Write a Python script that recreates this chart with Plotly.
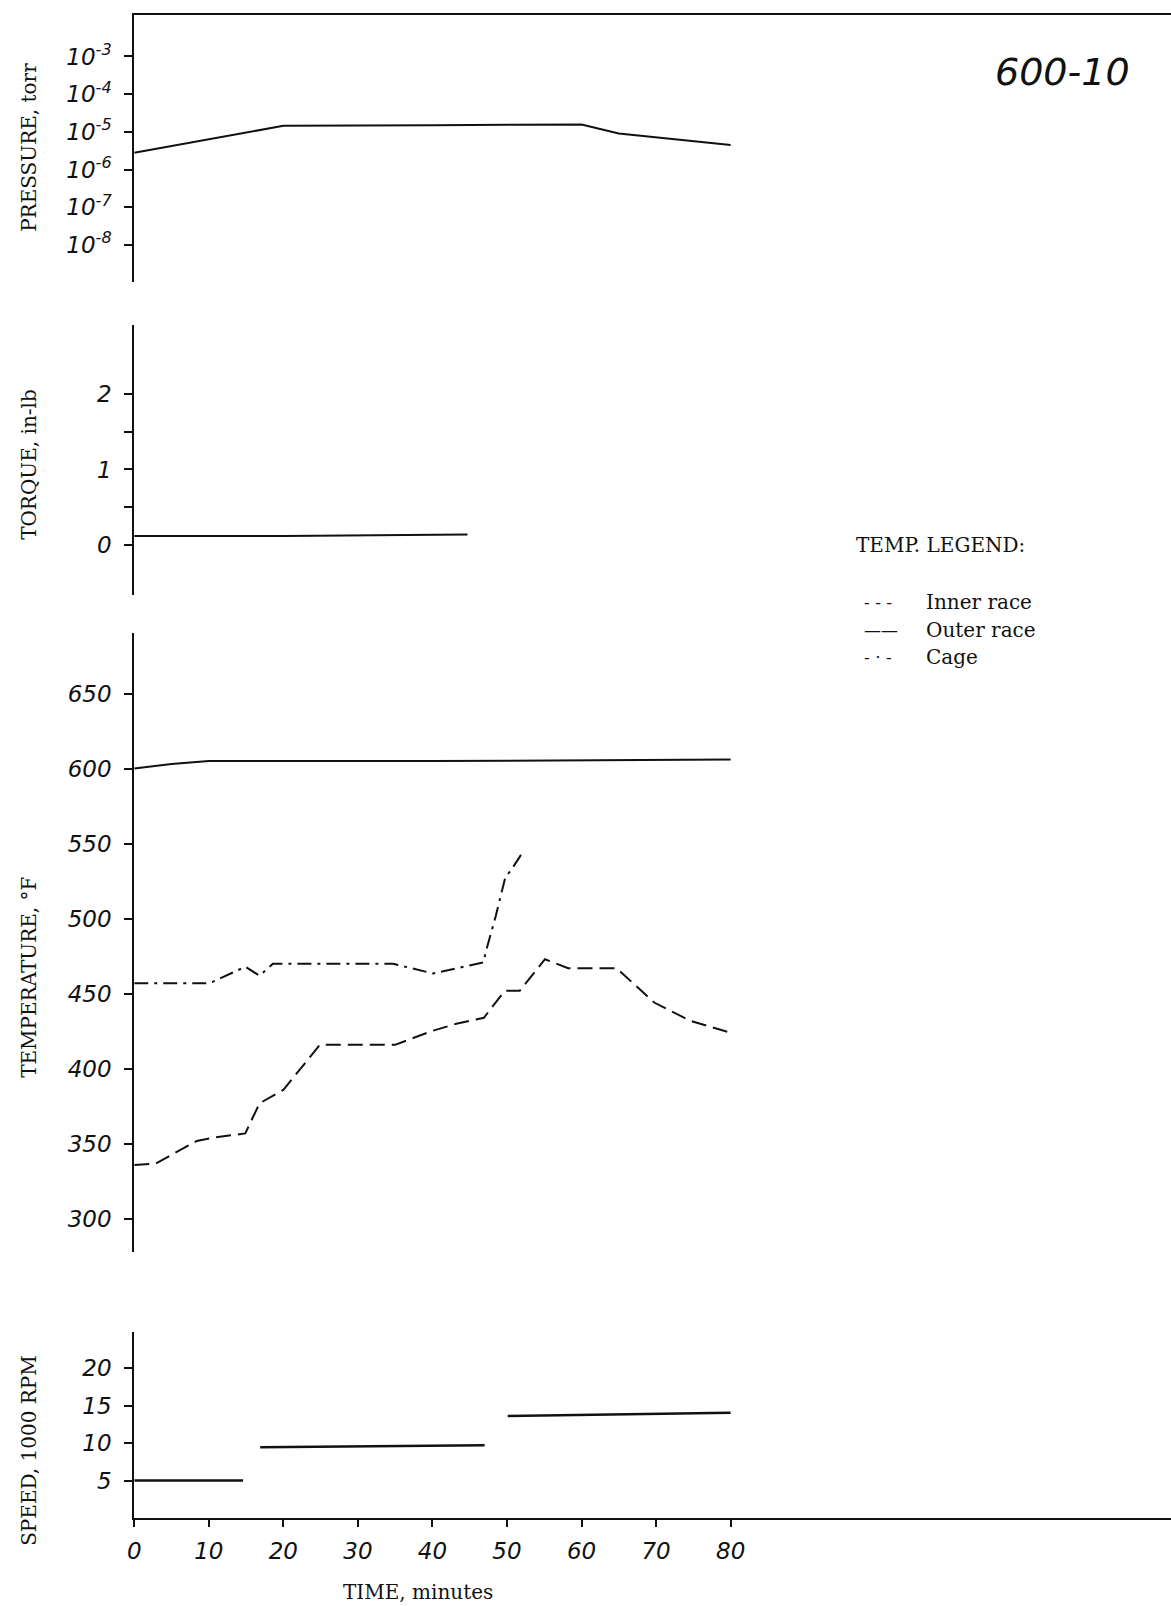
import plotly.graph_objects as go

# ---------------- data ----------------
time_pressure = [0, 10, 20, 40, 60, 65, 80]
pressure_torr = [2.8e-6, 6.4e-6, 1.45e-5, 1.5e-5, 1.58e-5, 9.1e-6, 4.5e-6]

time_torque = [0, 20, 44.7]
torque_inlb = [0.12, 0.12, 0.14]

time_outer = [0, 5, 10, 40, 80]
temp_outer = [600, 603, 605, 605, 606]

time_inner = [0, 2.9, 8.4, 10.4, 14.9, 16.8, 20, 24.9, 35, 39.8, 43.2, 46.9,
              49.7, 51.7, 55.1, 58.2, 64.7, 69.8, 74.6, 80]
temp_inner = [336, 337, 352, 354, 357, 377, 386, 416, 416, 425, 430, 434,
              452, 452, 473, 467, 467, 444, 432, 424]

time_cage = [0, 10.1, 14.9, 16.8, 18.6, 34.7, 40.1, 46.9, 47.1, 48.5, 49.8, 50.5, 52.0]
temp_cage = [457, 457, 468, 462, 470, 470, 463.5, 471, 477, 502, 528, 532, 543.5]

time_speed = [0, 14.6, None, 16.9, 47, None, 50.1, 80]
speed_krpm = [5, 5, None, 9.45, 9.7, None, 13.6, 14.05]

time_ticks = [0, 10, 20, 30, 40, 50, 60, 70, 80]
pressure_ticks = [1e-3, 1e-4, 1e-5, 1e-6, 1e-7, 1e-8]
pressure_ticktext = ["10<sup>-3</sup>", "10<sup>-4</sup>", "10<sup>-5</sup>",
                     "10<sup>-6</sup>", "10<sup>-7</sup>", "10<sup>-8</sup>"]
torque_ticks = [0, 0.5, 1, 1.5, 2]
torque_ticktext = ["0", "", "1", "", "2"]
temp_ticks = [300, 350, 400, 450, 500, 550, 600, 650]
speed_ticks = [5, 10, 15, 20]

legend_title = "TEMP. LEGEND:"
legend_marks = ["- - -", "——", "- · -"]
legend_labels = ["Inner race", "Outer race", "Cage"]

# ---------------- figure ----------------
W, H = 1171, 1606
INK = "#111111"

def py(px):
    return 1 - px / H

def pxx(px):
    return px / W

tickfont = dict(family="DejaVu Sans", size=23, color=INK, style="italic")
titlefont = dict(family="DejaVu Serif", size=20, color=INK)
legendfont = dict(family="DejaVu Serif", size=20, color=INK)

fig = go.Figure()

line = dict(color=INK, width=2)
fig.add_trace(go.Scatter(x=time_pressure, y=pressure_torr, mode="lines",
                         line=line, xaxis="x2", yaxis="y", showlegend=False))
fig.add_trace(go.Scatter(x=time_torque, y=torque_inlb, mode="lines",
                         line=line, xaxis="x", yaxis="y2", showlegend=False))
fig.add_trace(go.Scatter(x=time_outer, y=temp_outer, mode="lines",
                         line=line, xaxis="x", yaxis="y3", showlegend=False))
fig.add_trace(go.Scatter(x=time_inner, y=temp_inner, mode="lines",
                         line=dict(color=INK, width=2, dash="15px,7px"),
                         xaxis="x", yaxis="y3", showlegend=False))
fig.add_trace(go.Scatter(x=time_cage, y=temp_cage, mode="lines",
                         line=dict(color=INK, width=2, dash="14px,6px,3px,6px"),
                         xaxis="x", yaxis="y3", showlegend=False))
fig.add_trace(go.Scatter(x=time_speed, y=speed_krpm, mode="lines",
                         line=dict(color=INK, width=2.5), connectgaps=False,
                         xaxis="x", yaxis="y4", showlegend=False))

x0 = 128
xdom = [pxx(x0), 1]
xrange_ = [0, (W - x0) / 7.5]

yaxis_common = dict(showline=True, linewidth=2, linecolor=INK, ticks="outside",
                    ticklen=8, tickwidth=2, tickcolor=INK, showgrid=False,
                    zeroline=False, tickfont=tickfont, ticklabelstandoff=8)

fig.update_layout(
    width=W, height=H,
    margin=dict(l=0, r=0, t=0, b=0),
    paper_bgcolor="white", plot_bgcolor="white",
    xaxis=dict(domain=xdom, range=xrange_, anchor="y4", showline=True,
               linewidth=2, linecolor=INK, ticks="outside", ticklen=7,
               tickwidth=2, tickcolor=INK, tickvals=time_ticks,
               tickfont=tickfont, showgrid=False, zeroline=False,
               ticklabelstandoff=4),
    xaxis2=dict(domain=xdom, range=xrange_, anchor="y", side="top",
                showline=True, linewidth=2, linecolor=INK,
                showticklabels=False, ticks="", showgrid=False, zeroline=False),
    yaxis=dict(domain=[py(282), py(15)], type="log", range=[-8.98, -1.9],
               anchor="x2", tickvals=pressure_ticks, ticktext=pressure_ticktext,
               **yaxis_common),
    yaxis2=dict(domain=[py(595), py(325)], range=[-0.66, 2.91], anchor="x",
                tickvals=torque_ticks, ticktext=torque_ticktext, **yaxis_common),
    yaxis3=dict(domain=[py(1252), py(633)], range=[278, 690.3], anchor="x",
                tickvals=temp_ticks, **yaxis_common),
    yaxis4=dict(domain=[py(1518), py(1332)], range=[0, 24.8], anchor="x",
                tickvals=speed_ticks, **yaxis_common),
)

ann = []
# axis titles
for text, yc in [("PRESSURE, torr", 147), ("TORQUE, in-lb", 464),
                 ("TEMPERATURE, °F", 977), ("SPEED, 1000 RPM", 1450)]:
    ann.append(dict(text=text, x=pxx(22), y=py(yc), xref="paper", yref="paper",
                    textangle=-90, showarrow=False, font=titlefont,
                    xanchor="center", yanchor="middle"))
ann.append(dict(text="TIME, minutes", x=pxx(413), y=py(1592), xref="paper",
                yref="paper", showarrow=False, font=titlefont,
                xanchor="center", yanchor="middle"))
ann.append(dict(text="600-10", x=pxx(1062), y=py(72), xref="paper", yref="paper",
                showarrow=False, xanchor="center", yanchor="middle",
                font=dict(family="DejaVu Sans", size=38, color=INK, style="italic")))
ann.append(dict(text=legend_title, x=pxx(852), y=py(545), xref="paper",
                yref="paper", showarrow=False, xanchor="left", yanchor="middle",
                font=legendfont))
for i, (mk, lb) in enumerate(zip(legend_marks, legend_labels)):
    yy = 602 + i * 27.5
    ann.append(dict(text=mk, x=pxx(860), y=py(yy), xref="paper", yref="paper",
                    showarrow=False, xanchor="left", yanchor="middle",
                    font=dict(family="DejaVu Serif", size=17, color=INK)))
    ann.append(dict(text=lb, x=pxx(923), y=py(yy), xref="paper", yref="paper",
                    showarrow=False, xanchor="left", yanchor="middle",
                    font=legendfont))
fig.update_layout(annotations=ann)

fig.write_html("out.html")
